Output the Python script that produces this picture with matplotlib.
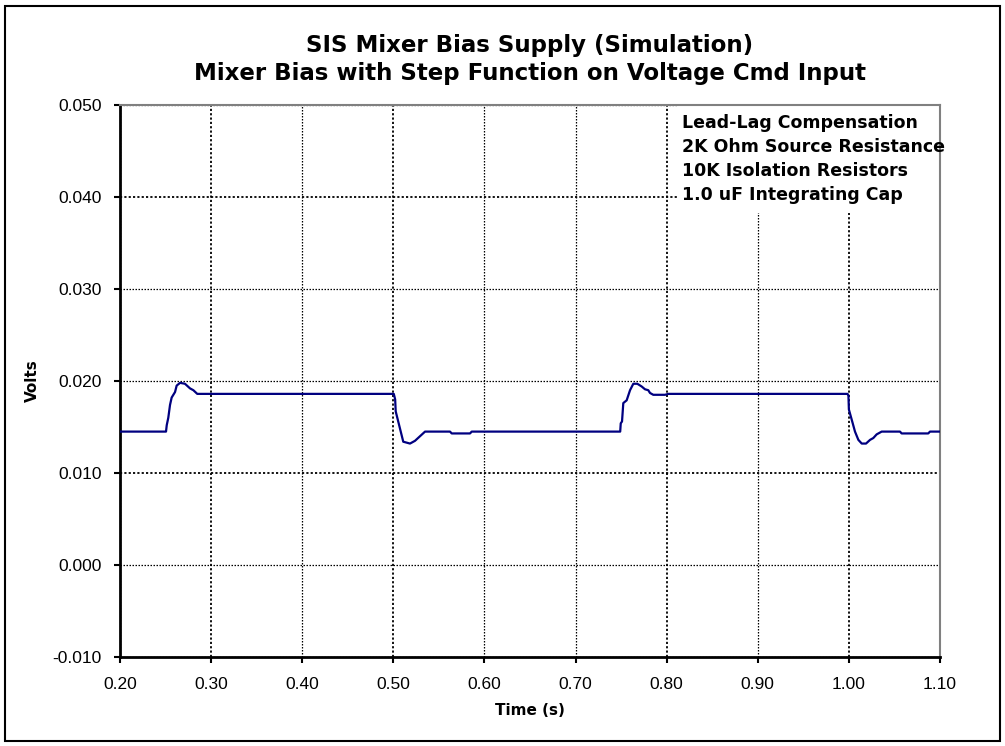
import matplotlib
matplotlib.use("Agg")
import matplotlib.pyplot as plt
from matplotlib.patches import Rectangle

# ---- data ----
time_s = [0.200, 0.2500, 0.2505, 0.2513, 0.2530, 0.2549, 0.2567, 0.2604, 0.2622, 0.2659, 0.2713, 0.2768, 0.2805, 0.2848,
          0.5005, 0.5020, 0.5026, 0.5109, 0.5183, 0.5238, 0.5348, 0.5622, 0.5641, 0.5842, 0.5860,
          0.7490, 0.7496, 0.7510, 0.7524, 0.7561, 0.7598, 0.7634, 0.7678, 0.7726, 0.7762, 0.7798, 0.7817, 0.7853, 0.7982, 0.8018,
          0.9985, 0.9995, 1.0000, 1.0031, 1.0067, 1.0104, 1.0141, 1.0188, 1.0232, 1.0268, 1.0305, 1.0360, 1.0561, 1.0579,
          1.0871, 1.0890, 1.0990]
volts = [0.0145, 0.0145, 0.0145, 0.0152, 0.0160, 0.0174, 0.0182, 0.0188, 0.0195, 0.0198, 0.0197, 0.0192, 0.0190, 0.0186,
         0.0186, 0.0180, 0.0167, 0.0134, 0.0132, 0.0135, 0.0145, 0.0145, 0.0143, 0.0143, 0.0145,
         0.0145, 0.0154, 0.0156, 0.0176, 0.0179, 0.0190, 0.0197, 0.0197, 0.0194, 0.0191, 0.0190, 0.0187, 0.0185, 0.0185, 0.0186,
         0.0186, 0.0184, 0.0169, 0.0158, 0.0145, 0.0136, 0.0132, 0.0132, 0.0136, 0.0138, 0.0142, 0.0145, 0.0145, 0.0143,
         0.0143, 0.0145, 0.0145]

x_ticks = [0.20, 0.30, 0.40, 0.50, 0.60, 0.70, 0.80, 0.90, 1.00, 1.10]
y_ticks = [-0.010, 0.000, 0.010, 0.020, 0.030, 0.040, 0.050]

title_lines = ["SIS Mixer Bias Supply (Simulation)",
               "Mixer Bias with Step Function on Voltage Cmd Input"]
notes = ["Lead-Lag Compensation", "2K Ohm Source Resistance",
         "10K Isolation Resistors", "1.0 uF Integrating Cap"]

plt.rcParams['font.family'] = ['Liberation Sans', 'DejaVu Sans']
BOLD = ['DejaVu Sans']

W, H = 1005, 746
fig = plt.figure(figsize=(W / 100, H / 100), dpi=100)
fig.patch.set_facecolor('white')
fig.add_artist(Rectangle((4.5 / W, 5.5 / H), 995 / W, 735 / H, transform=fig.transFigure,
                         fill=False, edgecolor='black', linewidth=1.5))

ax = fig.add_axes([120 / W, 1 - 657 / H, 820 / W, 552 / H])
ax.plot(time_s, volts, color='#000080', linewidth=1.6, zorder=3)

ax.set_xlim(0.20, 1.10)
ax.set_ylim(-0.010, 0.050)
ax.set_xticks(x_ticks)
ax.set_yticks(y_ticks)
ax.set_xticklabels([f"{v:.2f}" for v in x_ticks], fontsize=12.5)
ax.set_yticklabels([f"{v:.3f}" for v in y_ticks], fontsize=12.5)
ax.tick_params(axis='both', direction='out', length=4.5, width=1.5, color='black')
ax.tick_params(axis='x', pad=10)
ax.tick_params(axis='y', pad=8.5)

ax.grid(True, color='black', linestyle=(0, (1.2, 1.2)), linewidth=0.9)
ax.set_axisbelow(True)
heavy_x = {0.30, 0.50, 0.80, 1.00}
heavy_y = {0.040, 0.010}
for v, gl in zip(x_ticks, ax.xaxis.get_gridlines()):
    if round(v, 2) in heavy_x:
        gl.set_linewidth(1.3)
for v, gl in zip(y_ticks, ax.yaxis.get_gridlines()):
    if round(v, 3) in heavy_y:
        gl.set_linewidth(1.3)

for s in ['left', 'bottom']:
    ax.spines[s].set_color('black')
    ax.spines[s].set_linewidth(2)
for s in ['top', 'right']:
    ax.spines[s].set_color('#808080')
    ax.spines[s].set_linewidth(1.5)

ax.set_xlabel("Time (s)", fontsize=11, fontweight='bold', family=BOLD, labelpad=8)
ax.set_ylabel("Volts", fontsize=11, fontweight='bold', family=BOLD, labelpad=9)

fig.text(530 / W, 1 - 52.3 / H, title_lines[0], ha='center', va='baseline',
         fontsize=16.5, fontweight='bold', family=BOLD)
fig.text(530 / W, 1 - 80 / H, title_lines[1], ha='center', va='baseline',
         fontsize=16.5, fontweight='bold', family=BOLD)

# white panel behind the notes (covers grid, stays under spines)
ax.add_patch(Rectangle(((677 - 120) / 820, (657 - 213) / 552), 1 - (677 - 120) / 820,
                       1 - (657 - 213) / 552, transform=ax.transAxes,
                       facecolor='white', edgecolor='none', zorder=1.5))
for i, line in enumerate(notes):
    yb = 128.3 + i * 23.9
    ax.text((682 - 120) / 820, (657 - yb) / 552, line, transform=ax.transAxes,
            ha='left', va='baseline', fontsize=12.5, fontweight='bold', family=BOLD, zorder=4)

fig.savefig("out.png", dpi=100, facecolor='white')
